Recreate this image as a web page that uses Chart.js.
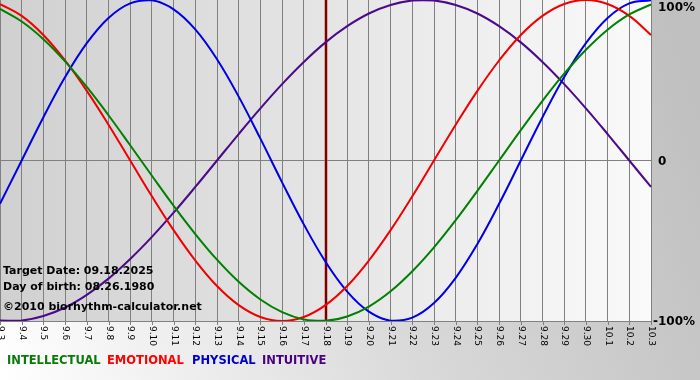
<!DOCTYPE html>
<html><head><meta charset="utf-8">
<style>html,body{margin:0;padding:0;background:#fff;}canvas{display:block;}</style>
<script src="https://cdn.jsdelivr.net/npm/chart.js@4/dist/chart.umd.min.js"></script>
</head><body>
<canvas id="c" width="700" height="380"></canvas>
<script>
const dates = ['9.3','9.4','9.5','9.6','9.7','9.8','9.9','9.10','9.11','9.12','9.13','9.14','9.15','9.16','9.17','9.18','9.19','9.20','9.21','9.22','9.23','9.24','9.25','9.26','9.27','9.28','9.29','9.30','10.1','10.2','10.3'];
const intellectual = [0.945,0.866,0.756,0.618,0.458,0.282,0.095,-0.095,-0.282,-0.458,-0.618,-0.756,-0.866,-0.945,-0.990,-0.999,-0.972,-0.910,-0.815,-0.690,-0.541,-0.372,-0.189,0.000,0.189,0.372,0.541,0.690,0.815,0.910,0.972];
const emotional = [0.975,0.901,0.782,0.623,0.434,0.223,0.000,-0.223,-0.434,-0.623,-0.782,-0.901,-0.975,-1.000,-0.975,-0.901,-0.782,-0.623,-0.434,-0.223,0.000,0.223,0.434,0.623,0.782,0.901,0.975,1.000,0.975,0.901,0.782];
const physical = [-0.270,0.000,0.270,0.520,0.731,0.888,0.979,0.998,0.942,0.817,0.631,0.398,0.136,-0.136,-0.398,-0.631,-0.817,-0.942,-0.998,-0.979,-0.888,-0.731,-0.520,-0.270,0.000,0.270,0.520,0.731,0.888,0.979,0.998];
const intuitive = [-0.997,-0.997,-0.969,-0.916,-0.837,-0.736,-0.614,-0.476,-0.325,-0.165,0.000,0.165,0.325,0.476,0.614,0.736,0.837,0.916,0.969,0.997,0.997,0.969,0.916,0.837,0.736,0.614,0.476,0.325,0.165,0.000,-0.165];
const yTickValues = [1, 0, -1];
const yTickLabels = ['100%', '0', '-100%'];
const targetDate = '9.18';
const infoLines = ['Target Date: 09.18.2025', 'Day of birth: 08.26.1980', '\u00A92010 biorhythm-calculator.net'];
const seriesNames = ['INTELLECTUAL', 'EMOTIONAL', 'PHYSICAL', 'INTUITIVE'];
const lineColors = ['#008000', '#f00000', '#0000e6', '#4b0a8a'];
const legendColors = ['#0a7a0a', '#ff0000', '#0000cc', '#4b0082'];

const FONT = '"DejaVu Sans", Verdana, sans-serif';

const decor = {
  id: 'decor',
  beforeDraw(chart) {
    const ctx = chart.ctx, a = chart.chartArea;
    ctx.save();
    const g = ctx.createLinearGradient(0, 380, 700, 120);
    g.addColorStop(0, '#ffffff');
    g.addColorStop(0.55, '#d8d8d8');
    g.addColorStop(1, '#c0c0c0');
    ctx.fillStyle = g;
    ctx.fillRect(0, 0, chart.width, chart.height);
    const pg = ctx.createLinearGradient(a.left, 0, a.right, 0);
    pg.addColorStop(0, '#d0d0d0');
    pg.addColorStop(1, '#fafafa');
    ctx.fillStyle = pg;
    ctx.fillRect(a.left, a.top, a.right - a.left, a.bottom - a.top);
    ctx.restore();
  },
  beforeDatasetsDraw(chart) {
    const ctx = chart.ctx, a = chart.chartArea, xs = chart.scales.x;
    const x = Math.round(xs.getPixelForValue(dates.indexOf(targetDate)));
    ctx.save();
    ctx.fillStyle = '#c07070';
    ctx.fillRect(x - 1.5, a.top, 3, a.bottom - a.top);
    ctx.fillStyle = '#7a0000';
    ctx.fillRect(x - 1, a.top, 2, a.bottom - a.top);
    ctx.restore();
  },
  afterDraw(chart) {
    const ctx = chart.ctx, a = chart.chartArea, xs = chart.scales.x, ys = chart.scales.y;
    ctx.save();
    ctx.strokeStyle = '#808080';
    ctx.lineWidth = 1;
    ctx.fillStyle = '#000';
    ctx.font = '9px ' + FONT;
    ctx.textAlign = 'left';
    ctx.textBaseline = 'middle';
    dates.forEach((d, i) => {
      const x = Math.round(xs.getPixelForValue(i)) + 0.5;
      ctx.beginPath();
      ctx.moveTo(x, a.bottom);
      ctx.lineTo(x, a.bottom + 4);
      ctx.stroke();
      ctx.save();
      ctx.translate(x, a.bottom + 5);
      ctx.rotate(Math.PI / 2);
      ctx.fillText(d, 0, 0);
      ctx.restore();
    });
    ctx.font = 'bold 12px ' + FONT;
    yTickValues.forEach((v, i) => {
      let y = ys.getPixelForValue(v);
      y = Math.max(y, 7);
      const t = yTickLabels[i];
      const xOff = t.charAt(0) === '-' ? 2 : 7;
      ctx.fillText(t, a.right + xOff, y + 1);
    });
    ctx.font = 'bold 11px ' + FONT;
    const infoY = [271, 287, 307];
    infoLines.forEach((t, i) => ctx.fillText(t, 3, infoY[i]));
    ctx.font = 'bold 11.5px ' + FONT;
    const legendX = [7, 107, 192, 262];
    seriesNames.forEach((n, i) => {
      ctx.fillStyle = legendColors[i];
      ctx.fillText(n, legendX[i], 361);
    });
    ctx.restore();
  }
};

const mk = (label, data, color) => ({
  label, data, borderColor: color, borderWidth: 2, pointRadius: 0,
  tension: 0.4, fill: false
});

new Chart(document.getElementById('c'), {
  type: 'line',
  data: {
    labels: dates,
    datasets: [
      mk(seriesNames[0], intellectual, lineColors[0]),
      mk(seriesNames[1], emotional, lineColors[1]),
      mk(seriesNames[2], physical, lineColors[2]),
      mk(seriesNames[3], intuitive, lineColors[3])
    ]
  },
  options: {
    responsive: false,
    animation: false,
    devicePixelRatio: 1,
    layout: { padding: 0 },
    plugins: { legend: { display: false }, tooltip: { enabled: false } },
    scales: {
      x: {
        type: 'category',
        offset: false,
        ticks: { display: false, autoSkip: false },
        grid: { color: '#808080', lineWidth: 1, drawTicks: false },
        border: { display: false },
        afterFit: s => { s.height = 59; }
      },
      y: {
        position: 'right',
        min: -1, max: 1,
        ticks: { display: false, stepSize: 1 },
        grid: {
          color: c => (c.tick && (c.tick.value === 0 || c.tick.value === -1)) ? '#808080' : 'rgba(0,0,0,0)',
          lineWidth: 1, drawTicks: false
        },
        border: { display: false },
        afterFit: s => { s.width = 49; }
      }
    }
  },
  plugins: [decor]
});
</script>
</body></html>
